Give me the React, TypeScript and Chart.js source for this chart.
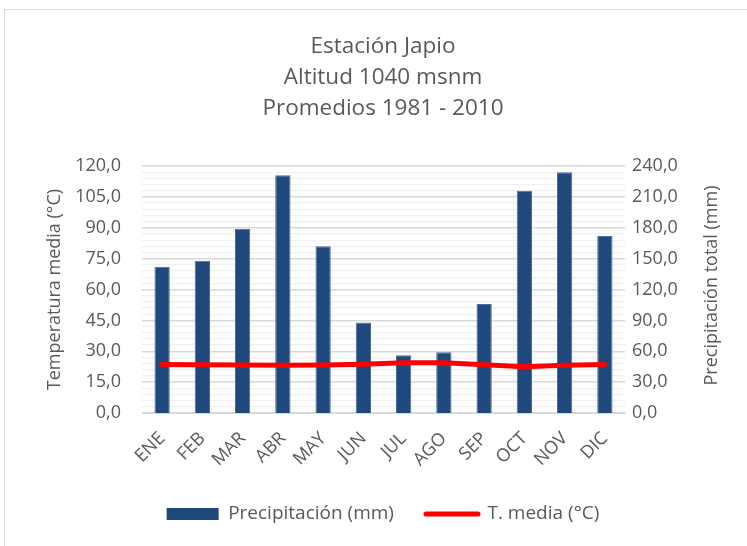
import React, { useEffect, useRef } from "react";
import { Chart, registerables } from "chart.js";

Chart.register(...registerables);

const months = ["ENE", "FEB", "MAR", "ABR", "MAY", "JUN", "JUL", "AGO", "SEP", "OCT", "NOV", "DIC"];
// Monthly precipitation totals (mm), right axis
const precipitation = [142, 148, 179, 231, 162, 88, 56, 59, 106, 216, 234, 172];
// Mean monthly temperature (°C), left axis
const temperature = [23.6, 23.5, 23.3, 23.2, 23.3, 23.7, 24.4, 24.4, 23.5, 22.5, 23.2, 23.6];
const titleLines = ["Estación Japio", "Altitud 1040 msnm", "Promedios 1981 - 2010"];
const seriesNames = ["Precipitación (mm)", "T. media (°C)"];
const axisTitles = ["Temperatura media (°C)", "Precipitación total (mm)"];

const FONT = "'Open Sans', 'Noto Sans', sans-serif";
const TEXT = "#595959";
const BAR = "#1f497d";
const LINE = "#ff0000";
const AXIS_FONT_SIZE = 18;
const PAD_LEFT = 43;
const PAD_RIGHT = 24;

const fmt = (v: number) => v.toFixed(1).replace(".", ",");

// Right-hand axis title, written bottom-to-top like the left one
const rightAxisTitle = {
  id: "rightAxisTitle",
  afterDraw(chart: any) {
    const s = chart.scales.y1;
    const { ctx, chartArea } = chart;
    ctx.save();
    ctx.fillStyle = TEXT;
    ctx.font = `${AXIS_FONT_SIZE}px ${FONT}`;
    ctx.textAlign = "center";
    ctx.textBaseline = "middle";
    ctx.translate(s.right - 11, (chartArea.top + chartArea.bottom) / 2 - 4);
    ctx.rotate(-Math.PI / 2);
    ctx.fillText(axisTitles[1], 0, 0);
    ctx.restore();
  },
};

export default function App() {
  const ref = useRef<HTMLCanvasElement | null>(null);

  useEffect(() => {
    if (!ref.current) return;
    const chart = new Chart(ref.current, {
      data: {
        labels: months,
        datasets: [
          {
            type: "line",
            label: seriesNames[1],
            data: temperature,
            yAxisID: "y",
            borderColor: LINE,
            backgroundColor: LINE,
            borderWidth: 5,
            borderCapStyle: "round",
            pointRadius: 0,
            tension: 0,
            order: 0,
          },
          {
            type: "bar",
            label: seriesNames[0],
            data: precipitation,
            yAxisID: "y1",
            backgroundColor: BAR,
            borderColor: "#4a6d99",
            borderWidth: { top: 1, left: 1, right: 1, bottom: 0 },
            barPercentage: 0.38,
            categoryPercentage: 1,
            order: 1,
          },
        ],
      },
      plugins: [rightAxisTitle],
      options: {
        animation: false,
        responsive: true,
        maintainAspectRatio: false,
        layout: { padding: { left: PAD_LEFT, right: PAD_RIGHT, top: 31.5, bottom: 12.5 } },
        plugins: {
          tooltip: { enabled: false },
          title: {
            display: true,
            text: titleLines,
            color: TEXT,
            font: { family: FONT, size: 22.5, weight: "normal", lineHeight: 31 / 22.5 },
            padding: { top: 0, bottom: 41.5 },
          },
          legend: {
            position: "bottom",
            labels: {
              color: TEXT,
              font: { family: FONT, size: 19 },
              usePointStyle: true,
              pointStyleWidth: 52,
              boxHeight: 12,
              padding: 32,
              generateLabels: () => [
                {
                  text: seriesNames[0],
                  fillStyle: BAR,
                  strokeStyle: BAR,
                  lineWidth: 0,
                  pointStyle: "rect",
                  fontColor: TEXT,
                  datasetIndex: 1,
                },
                {
                  text: seriesNames[1],
                  fillStyle: LINE,
                  strokeStyle: LINE,
                  lineWidth: 5,
                  lineCap: "round",
                  pointStyle: "line",
                  fontColor: TEXT,
                  datasetIndex: 0,
                },
              ],
            },
          },
        },
        scales: {
          x: {
            grid: { display: false },
            border: { display: true, color: "#d9d9d9", width: 1 },
            afterFit: (s: any) => {
              s.height = 59.5;
            },
            ticks: {
              color: TEXT,
              font: { family: FONT, size: 18 },
              minRotation: 45,
              maxRotation: 45,
              padding: 7,
            },
          },
          y: {
            position: "left",
            min: 0,
            max: 120,
            border: { display: false },
            afterFit: (s: any) => {
              s.width = 142 - PAD_LEFT;
            },
            grid: {
              color: (c: any) => (c.tick && c.tick.value % 15 === 0 ? "#d9d9d9" : "#f0f0f0"),
              lineWidth: (c: any) => (c.tick && c.tick.value % 15 === 0 ? 1.5 : 1.2),
              drawTicks: false,
            },
            ticks: {
              stepSize: 3,
              autoSkip: false,
              color: TEXT,
              font: { family: FONT, size: AXIS_FONT_SIZE },
              padding: 21,
              callback: (v: any) => (Number(v) % 15 === 0 ? fmt(Number(v)) : ""),
            },
            title: {
              display: true,
              text: axisTitles[0],
              color: TEXT,
              font: { family: FONT, size: AXIS_FONT_SIZE },
              padding: { top: 1, bottom: 0 },
            },
          },
          y1: {
            position: "right",
            min: 0,
            max: 240,
            border: { display: false },
            grid: { display: false, drawTicks: false },
            afterFit: (s: any) => {
              s.width = 747 - PAD_RIGHT - 625;
            },
            ticks: {
              stepSize: 30,
              color: TEXT,
              font: { family: FONT, size: AXIS_FONT_SIZE },
              padding: 7,
              callback: (v: any) => fmt(Number(v)),
            },
          },
        },
      },
    });
    return () => chart.destroy();
  }, []);

  return (
    <div style={{ position: "fixed", left: 0, top: 0, width: 747, height: 546, background: "#fff", overflow: "hidden" }}>
      <div
        style={{
          position: "absolute",
          left: 4,
          top: 9,
          width: 780,
          height: 580,
          border: "1px solid #d9d9d9",
          boxSizing: "border-box",
        }}
      />
      <div style={{ position: "absolute", left: 0, top: 0, width: 747, height: 546 }}>
        <canvas ref={ref} />
      </div>
    </div>
  );
}
